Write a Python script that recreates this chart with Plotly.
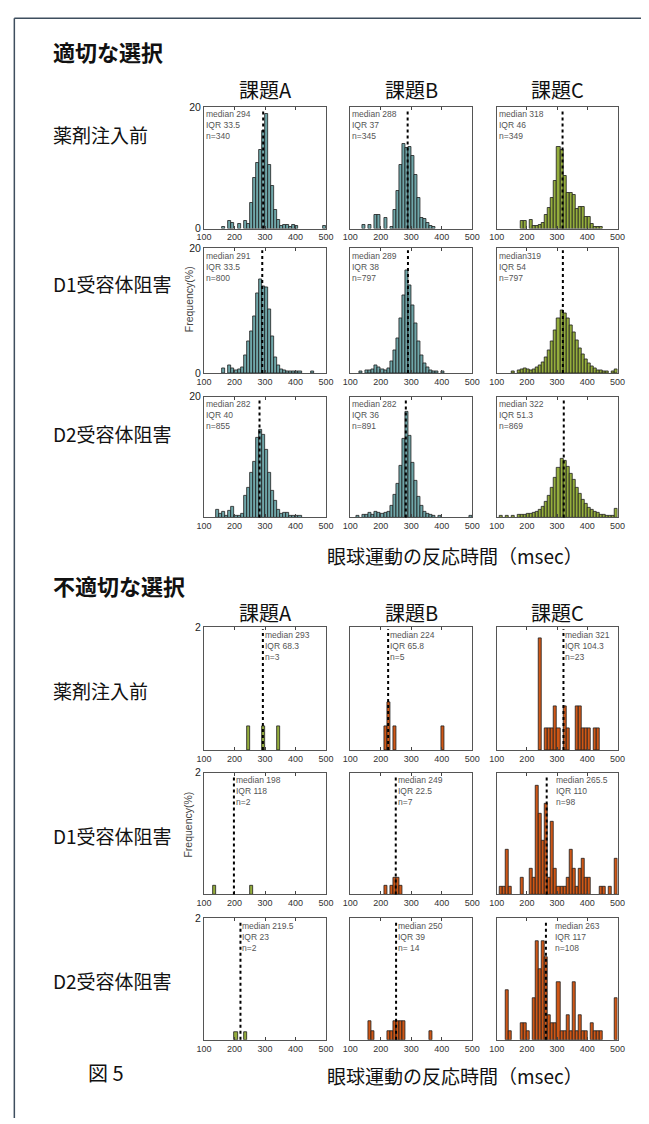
import numpy as np
import plotly.graph_objects as go

W, H = 649, 1124

# 10 ms bins from 100 to 500 ms
bin_edges = np.arange(100, 510, 10)
bin_centers = (bin_edges[:-1] + bin_edges[1:]) / 2

# ---- correct choices: frequency (%) per bin ----
pre_A = [0, 0, 0, 0, 0, 0, 0.3, 0, 1.2, 1.0,
         0, 0.7, 0, 1.2, 0.8, 4.2, 8.4, 10.8, 13.0, 16.0,
         18.9, 10.5, 7.0, 3.1, 1.5, 0.5, 0.6, 0.6, 0.3, 0.6,
         0.5, 0, 0, 0, 0, 0, 0, 0, 0, 0.4]
pre_B = [0, 0, 0, 0, 0.6, 0, 0.6, 0, 2.3, 2.3,
         0, 1.8, 0, 0.3, 3.1, 6.2, 10.4, 14.0, 13.2, 13.5,
         11.9, 8.9, 5.1, 1.8, 1.6, 0.9, 0.4, 0.3, 0, 0,
         0, 0, 0, 0, 0, 0, 0, 0, 0, 0]
pre_C = [0, 0, 0, 0, 0, 0, 0, 0, 1.3, 1.3,
         0, 1.4, 0.4, 0.5, 0.6, 0.9, 2.2, 3.4, 5.1, 7.9,
         13.5, 13.0, 8.6, 5.9, 5.9, 5.6, 3.2, 3.6, 3.6, 2.0,
         1.9, 0.8, 0.3, 0.3, 0.3, 0, 0, 0, 0, 0]
d1_A = [0, 0, 0, 0, 0, 0, 0.7, 0, 1.2, 0.7,
        0.5, 0.6, 0.9, 2.8, 5.1, 6.7, 9.1, 12.8, 15.0, 13.9,
        13.7, 10.2, 5.9, 2.5, 1.3, 0.6, 0.5, 0.3, 0.2, 0.2,
        0.2, 0.2, 0, 0, 0, 0.3, 0, 0, 0, 0]
d1_B = [0, 0, 0, 0.3, 0, 0.5, 0.4, 0.6, 1.2, 0.9,
        0.6, 0.5, 0.7, 1.8, 3.6, 5.6, 8.8, 12.5, 16.5, 14.0,
        10.8, 8.0, 5.0, 2.8, 1.6, 0.9, 0.5, 0.3, 0.2, 0,
        0.2, 0, 0, 0, 0, 0, 0, 0, 0, 0]
d1_C = [0, 0, 0, 0, 0, 0.2, 0, 0.4, 0.6, 0.8,
        0.6, 0.5, 0.6, 0.9, 1.2, 1.7, 2.5, 3.6, 5.0, 6.8,
        8.8, 10.0, 9.6, 8.7, 7.6, 6.5, 5.2, 4.0, 3.0, 2.2,
        1.5, 1.0, 0.7, 0.5, 0.4, 0.3, 0.2, 0, 0.2, 0.6]
d2_A = [0, 0, 0, 0, 1.3, 0.6, 1.0, 0.3, 1.1, 1.8,
        0.3, 0.3, 0.6, 3.6, 4.9, 7.4, 9.3, 13.2, 14.5, 13.7,
        11.3, 7.4, 4.4, 2.8, 1.3, 0.6, 0.7, 0.7, 0.2, 0.2,
        0.2, 0.2, 0, 0, 0, 0, 0, 0, 0, 0]
d2_B = [0, 0, 0.3, 0, 0.4, 0.5, 0.7, 0.5, 0.9, 0.7,
        0.6, 0.8, 1.0, 2.0, 3.8, 5.6, 8.5, 13.0, 17.5, 13.5,
        9.0, 6.0, 3.5, 2.0, 1.0, 0.6, 0.4, 0.3, 0, 0.2,
        0, 0, 0, 0, 0, 0, 0, 0, 0, 0.3]
d2_C = [0, 0.2, 0, 0.3, 0, 0.3, 0, 0.4, 0.5, 0.5,
        0.6, 0.6, 0.8, 1.0, 1.3, 1.8, 2.6, 3.6, 5.0, 6.6,
        8.2, 9.8, 9.4, 8.4, 7.3, 6.2, 5.0, 3.9, 3.0, 2.2,
        1.6, 1.2, 0.9, 0.7, 0.5, 0.4, 0.3, 0.3, 0.3, 1.5]

# ---- incorrect choices: frequency (%) per bin ----
err_pre_A = [0, 0, 0, 0, 0, 0, 0, 0, 0, 0,
             0, 0, 0, 0, 0.39, 0, 0, 0, 0, 0.39,
             0, 0, 0, 0, 0.39, 0, 0, 0, 0, 0,
             0, 0, 0, 0, 0, 0, 0, 0, 0, 0]
err_pre_B = [0, 0, 0, 0, 0, 0, 0, 0, 0, 0,
             0, 0.39, 0.77, 0, 0.39, 0, 0, 0, 0, 0,
             0, 0, 0, 0, 0, 0, 0, 0, 0, 0,
             0.39, 0, 0, 0, 0, 0, 0, 0, 0, 0]
err_pre_C = [0, 0, 0, 0, 0, 0, 0, 0, 0, 0,
             0, 0, 0, 0, 1.82, 0, 0.36, 0.36, 0.36, 0.72,
             0.36, 0, 0.72, 0.36, 0, 0, 0.72, 0.72, 0.36, 0.36,
             0.36, 0, 0.36, 0.36, 0, 0, 0, 0, 0, 0]
err_d1_A = [0, 0, 0, 0.137, 0, 0, 0, 0, 0, 0,
            0, 0, 0, 0, 0, 0.137, 0, 0, 0, 0,
            0, 0, 0, 0, 0, 0, 0, 0, 0, 0,
            0, 0, 0, 0, 0, 0, 0, 0, 0, 0]
err_d1_B = [0, 0, 0, 0, 0, 0, 0, 0, 0, 0,
            0, 0.137, 0, 0.137, 0.27, 0.27, 0.137, 0, 0, 0,
            0, 0, 0, 0, 0, 0, 0, 0, 0, 0,
            0, 0, 0, 0, 0, 0, 0, 0, 0, 0]
err_d1_C = [0, 0.131, 0.131, 0.738, 0.131, 0, 0, 0, 0.279, 0,
            0, 0.426, 0.279, 1.79, 1.33, 0.89, 1.49, 0.279, 1.19, 0.426,
            0.131, 0.131, 0.131, 0.279, 0.738, 0.426, 0.131, 0.426, 0.59, 0.279,
            0.279, 0, 0, 0, 0.131, 0.131, 0, 0.131, 0, 0.59]
err_d2_A = [0, 0, 0, 0, 0, 0, 0, 0, 0, 0,
            0.13, 0, 0, 0.13, 0, 0, 0, 0, 0, 0,
            0, 0, 0, 0, 0, 0, 0, 0, 0, 0,
            0, 0, 0, 0, 0, 0, 0, 0, 0, 0]
err_d2_B = [0, 0, 0, 0, 0, 0, 0.30, 0.146, 0, 0,
            0, 0, 0.146, 0.146, 0.30, 0.30, 0.30, 0.30, 0, 0,
            0, 0, 0, 0, 0, 0, 0.146, 0, 0, 0,
            0, 0, 0, 0, 0, 0, 0, 0, 0, 0]
err_d2_C = [0, 0, 0, 0.81, 0.135, 0, 0, 0, 0.27, 0.27,
            0.135, 0, 0.68, 1.63, 1.17, 1.63, 1.36, 0.41, 0.27, 0.27,
            0.95, 0.135, 0.135, 0.41, 0.135, 0.95, 0.135, 0.41, 0.135, 0.135,
            0, 0.27, 0.135, 0.135, 0.135, 0, 0, 0, 0, 0.68]

# summary statistics per panel (rows: 薬剤注入前, D1, D2; cols: 課題A, B, C)
top_median = [[294, 288, 318], [291, 289, 319], [282, 282, 322]]
top_median_sep = [[" ", " ", " "], [" ", " ", ""], [" ", " ", " "]]
top_iqr = [["33.5", "37", "46"], ["33.5", "38", "54"], ["40", "36", "51.3"]]
top_n = [["340", "345", "349"], ["800", "797", "797"], ["855", "891", "869"]]

bot_median = [[293, 224, 321], [198, 249, 265.5], [219.5, 250, 263]]
bot_iqr = [["68.3", "65.8", "104.3"], ["118", "22.5", "110"], ["23", "39", "117"]]
bot_n = [["3", "5", "23"], ["2", "7", "98"], ["2", " 14", "108"]]

top_data = [[pre_A, pre_B, pre_C], [d1_A, d1_B, d1_C], [d2_A, d2_B, d2_C]]
bot_data = [[err_pre_A, err_pre_B, err_pre_C],
            [err_d1_A, err_d1_B, err_d1_C],
            [err_d2_A, err_d2_B, err_d2_C]]

task_titles = ["課題A", "課題B", "課題C"]
row_titles = ["薬剤注入前", "D1受容体阻害", "D2受容体阻害"]

TEAL = "#6fa6a9"
OLIVE = "#94ad3c"
ORANGE = "#cf5716"
top_colors = [TEAL, TEAL, OLIVE]
bot_colors = [OLIVE, ORANGE, ORANGE]

CJK = "Noto Sans CJK JP"
LATIN = "Arial, Liberation Sans, sans-serif"

# panel geometry in pixels
col_px = [(201, 326), (351, 476), (501, 625)]
top_rows_px = [(102, 225), (245, 371), (395, 517)]
bot_rows_px = [(628, 752), (775, 898), (922, 1045)]


def fx(px):
    return px / W


def fy(py):
    return 1 - py / H


fig = go.Figure()
layout = dict(width=W, height=H, margin=dict(l=0, r=0, t=0, b=0),
              paper_bgcolor="white", plot_bgcolor="white",
              showlegend=False, bargap=0)
shapes, annotations = [], []

k = 0
for section in ("top", "bot"):
    rows_px = top_rows_px if section == "top" else bot_rows_px
    data = top_data if section == "top" else bot_data
    ymax = 20 if section == "top" else 2
    for r in range(3):
        for c in range(3):
            k += 1
            sx = "" if k == 1 else str(k)
            left, right = col_px[c]
            top, bottom = rows_px[r]
            vals = np.array(data[r][c], dtype=float)
            mask = vals > 0
            color = top_colors[c] if section == "top" else bot_colors[c]
            fig.add_trace(go.Bar(
                x=bin_centers[mask], y=vals[mask], width=10,
                marker=dict(color=color, line=dict(color="#1e1e1e", width=0.8)),
                xaxis="x" + sx, yaxis="y" + sx, hoverinfo="skip"))

            layout["xaxis" + sx] = dict(
                domain=[fx(left), fx(right)], range=[100, 500], anchor="y" + sx,
                tickvals=[100, 200, 300, 400, 500], ticks="inside", ticklen=3,
                tickcolor="#444", showline=True, linecolor="#555", linewidth=1,
                mirror="ticks", showgrid=False, zeroline=False,
                tickfont=dict(family=LATIN, size=9, color="#333"))
            if section == "top":
                yt = [0, 20] if r < 2 else [20]
            else:
                yt = [2]
            layout["yaxis" + sx] = dict(
                domain=[fy(bottom), fy(top)], range=[0, ymax], anchor="x" + sx,
                showline=True, linecolor="#555", linewidth=1, mirror=True,
                ticks="", tickvals=yt, showticklabels=(c == 0),
                showgrid=False, zeroline=False,
                tickfont=dict(family=LATIN, size=10.5, color="#222"))

            if section == "top":
                med = top_median[r][c]
                lines = ["median" + top_median_sep[r][c] + str(med),
                         "IQR " + top_iqr[r][c], "n=" + top_n[r][c]]
            else:
                med = bot_median[r][c]
                lines = ["median " + str(med), "IQR " + bot_iqr[r][c],
                         "n=" + bot_n[r][c]]

            shapes.append(dict(type="line", xref="x" + sx, yref="y" + sx + " domain",
                               x0=med, x1=med, y0=0, y1=0.985,
                               line=dict(color="black", width=2, dash="dot")))

            # stats block: one multi-line text per panel
            ann = dict(text="<br>".join(lines), showarrow=False, align="left",
                       xanchor="left", yanchor="top", borderpad=0,
                       yref="paper", y=fy(top + 1.5),
                       font=dict(family=LATIN, size=8.5, color="#555"))
            if section == "top":
                ann.update(xref="paper", x=fx(left + 1))
            else:
                shift = 8 if (c == 2 and r > 0) else 1
                ann.update(xref="x" + sx, x=med, xshift=shift)
            annotations.append(ann)

# section headings, task titles, row titles
for title, ypx in (("適切な選択", 45), ("不適切な選択", 585)):
    annotations.append(dict(text="<b>" + title + "</b>", x=fx(44), y=fy(ypx),
                            xref="paper", yref="paper", xanchor="left",
                            yanchor="middle", showarrow=False,
                            font=dict(family=CJK, size=22, color="#111")))

for ypx in (84, 613):
    for c in range(3):
        cx = (col_px[c][0] + col_px[c][1]) / 2
        annotations.append(dict(text=task_titles[c], x=fx(cx), y=fy(ypx),
                                xref="paper", yref="paper", showarrow=False,
                                xanchor="center", yanchor="middle",
                                font=dict(family=CJK, size=20, color="#111")))

for ys in ((130, 280, 432), (692, 838, 985)):
    for r in range(3):
        annotations.append(dict(text=row_titles[r], x=fx(44), y=fy(ys[r]),
                                xref="paper", yref="paper", showarrow=False,
                                xanchor="left", yanchor="middle",
                                font=dict(family=CJK, size=19, color="#111")))

for ypx in (296, 827):
    annotations.append(dict(text="Frequency(%)", x=fx(185), y=fy(ypx),
                            xref="paper", yref="paper", showarrow=False,
                            textangle=-90, xanchor="center", yanchor="middle",
                            font=dict(family=LATIN, size=10.5, color="#444")))

for ypx in (555, 1081):
    annotations.append(dict(text="眼球運動の反応時間（msec）", x=fx(458), y=fy(ypx),
                            xref="paper", yref="paper", showarrow=False,
                            xanchor="center", yanchor="middle",
                            font=dict(family=CJK, size=19, color="#111")))

annotations.append(dict(text="図 5", x=fx(80), y=fy(1078), xref="paper", yref="paper",
                        showarrow=False, xanchor="left", yanchor="middle",
                        font=dict(family=CJK, size=20, color="#111")))

# page frame
frame = dict(color="#3e4e5e", width=1.5)
shapes.append(dict(type="line", xref="paper", yref="paper",
                   x0=fx(6.5), x1=1.0, y0=fy(12.5), y1=fy(12.5), line=frame))
shapes.append(dict(type="line", xref="paper", yref="paper",
                   x0=fx(6.5), x1=fx(6.5), y0=fy(12.5), y1=0, line=frame))

layout["shapes"] = shapes
layout["annotations"] = annotations
fig.update_layout(**layout)
fig.write_html("out.html")
